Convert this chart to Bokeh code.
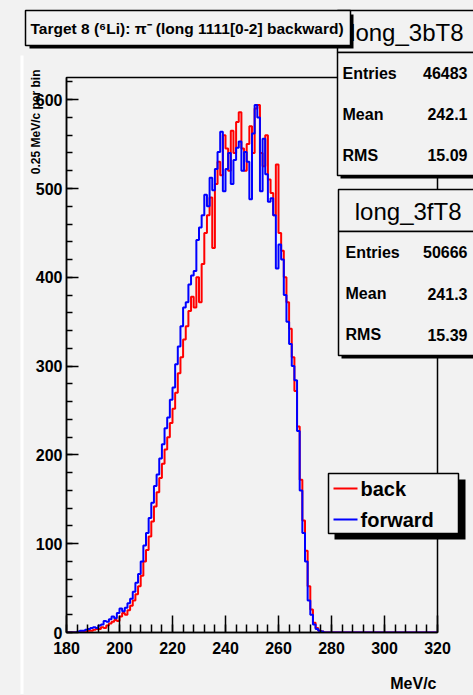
import math
from bokeh.plotting import figure
from bokeh.models import Range1d, SingleIntervalTicker, GridBox
from bokeh.core.properties import value
from bokeh.embed import file_html
from bokeh.resources import INLINE

# ---------------- data (1 MeV/c bins) ----------------
x_min, x_max = 180, 320
y_max = 625
hist_start = 184  # lower edge of first listed bin
back_counts = [
    0, 1, 1, 1, 2, 2, 3, 4, 4, 6,            # 184-193
    5, 8, 10, 12, 14, 13, 18, 22, 20, 25,     # 194-203
    30, 36, 43, 52, 64, 80, 93, 108, 125, 142,  # 204-213
    158, 174, 190, 206, 220, 236, 252, 270, 292, 310,  # 214-223
    330, 345, 362, 378, 366, 400, 372, 415, 450, 470,  # 224-233
    490, 433, 505, 530, 515, 560, 545, 520, 565, 540,  # 234-243
    575, 586, 545, 520, 550, 570, 540, 590, 594, 540,  # 244-253
    525, 560, 510, 495, 470, 527, 450, 430, 400, 372,  # 254-263
    342, 310, 272, 232, 172, 126, 92, 52, 26, 11,      # 264-273
    5, 2, 1, 0,                                        # 274-277
]
forward_counts = [
    1, 2, 2, 3, 4, 5, 6, 5, 8, 9,
    13, 12, 15, 18, 16, 22, 27, 24, 28, 33,
    38, 46, 56, 66, 80, 98, 112, 129, 146, 165,
    178, 196, 212, 230, 242, 262, 276, 302, 322, 345,
    366, 372, 392, 402, 407, 442, 456, 470, 493, 480,
    512, 498, 522, 541, 564, 497, 522, 540, 505, 532,
    546, 553, 520, 541, 530, 488, 562, 594, 580, 497,
    556, 516, 485, 489, 470, 410, 437, 420, 380, 350,
    325, 300, 284, 227, 160, 112, 80, 36, 20, 9,
    4, 2, 1, 0,
]
series_names = ["back", "forward"]
series_colors = ["#ff0000", "#0000ff"]
stats_titles = ["long_3bT8", "long_3fT8"]
stats_entries = ["46483", "50666"]
stats_mean = ["242.1", "241.3"]
stats_rms = ["15.09", "15.39"]
title_text = "Target 8 (\u2076Li): \u03c0\u207b (long 1111[0-2] backward)"
x_title = "MeV/c"
y_title = "0.25 MeV/c per bin"

edges = list(range(x_min, x_max + 1))
nb = x_max - x_min


def full_hist(counts):
    vals = [0] * (hist_start - x_min) + list(counts)
    vals += [0] * (nb - len(vals))
    return vals + [vals[-1]]


# ---------------- layout ----------------
FONT = "Liberation Sans"
BG = "#f2f2f2"
W, H = 473, 694
FL, FR, FT, FB = 66, 437, 77, 632

p = figure(width=W, height=H, x_range=Range1d(x_min, x_max), y_range=Range1d(0, y_max),
           output_backend="svg", toolbar_location=None,
           min_border_left=FL, min_border_right=W - FR, min_border_top=FT, min_border_bottom=H - FB)
p.background_fill_color = BG
p.border_fill_color = BG
p.outline_line_color = "black"
p.outline_line_width = 1.5
p.xgrid.visible = False
p.ygrid.visible = False

p.xaxis.ticker = SingleIntervalTicker(interval=20, num_minor_ticks=5)
p.yaxis.ticker = SingleIntervalTicker(interval=100, num_minor_ticks=5)
for ax, (mi, mn) in ((p.xaxis, (17, 8)), (p.yaxis, (12, 6))):
    ax.major_tick_in = mi
    ax.major_tick_out = 0
    ax.minor_tick_in = mn
    ax.minor_tick_out = 0
    ax.axis_line_color = "black"
    ax.axis_line_width = 1.5
    ax.major_tick_line_color = "black"
    ax.major_tick_line_width = 1.5
    ax.minor_tick_line_color = "black"
    ax.minor_tick_line_width = 1.5
    ax.major_label_text_font = FONT
    ax.major_label_text_font_size = "16px"
    ax.major_label_text_font_style = "bold"
    ax.major_label_text_color = "black"
p.xaxis.major_label_standoff = 9
p.yaxis.major_label_standoff = 4

# histograms
p.step(edges, full_hist(back_counts), mode="after", line_color=series_colors[0], line_width=2)
p.step(edges, full_hist(forward_counts), mode="after", line_color=series_colors[1], line_width=2)

# ---------------- overlay for boxes and titles (page pixel coordinates) ----------------
o = figure(width=W, height=H, x_range=Range1d(0, W), y_range=Range1d(H, 0),
           output_backend="svg", toolbar_location=None, x_axis_type=None, y_axis_type=None,
           min_border=0)
o.background_fill_color = None
o.border_fill_color = None
o.outline_line_color = None

for fig in (p, o):
    if "frame_align" in fig.properties():
        fig.frame_align = False


def box(l, t, r, b, fill=BG, line="black", lw=1.5):
    o.quad(left=[l], right=[r], top=[t], bottom=[b], fill_color=fill,
           line_color=line, line_width=lw)


def text(px, py, s, size, bold=True, align="left", baseline="middle", angle=0.0, color="black"):
    o.text(x=[px], y=[py], text=[s], text_font=value(FONT), text_font_size=value(size),
           text_font_style="bold" if bold else "normal", text_align=align,
           text_baseline=baseline, angle=angle, text_color=color)


# white strip at the canvas edge
box(20, 55, 23, H, fill="white", line=None, lw=0)

# axis titles
text(35, 69, y_title, "12px", align="right", baseline="alphabetic", angle=math.pi / 2)
text(436, 683, x_title, "16px", align="right", baseline="alphabetic")

# stats boxes
stat_geo = [(337, 10, 52, 175, 342, 463), (338, 189, 231, 355, 345, 461)]
for i, (l, t, s, b, tx, trx) in enumerate(stat_geo):
    box(l + 3, t + 3, 510, b + 3, fill="black", line=None, lw=0)
    box(l, t, 505, s)
    box(l, s, 505, b)
    text(trx, (t + s) / 2 + 1, stats_titles[i], "24px", bold=False, align="right")
    rows = [("Entries", stats_entries[i]), ("Mean", stats_mean[i]), ("RMS", stats_rms[i])]
    h = (b - s) / 3
    for k, (lab, val) in enumerate(rows):
        yy = s + h * (k + 0.5)
        text(tx, yy, lab, "16px")
        text(467, yy, val, "16px", align="right")

# title box
box(29, 14, 353, 48, fill="black", line=None, lw=0)
box(25, 10, 350, 45)
text(30, 28, title_text, "15.5px")

# legend
box(334, 479, 465, 539, fill="black", line=None, lw=0)
box(328, 473, 458, 533)
for k, (nm, col) in enumerate(zip(series_names, series_colors)):
    yy = 488 + 31 * k
    o.segment(x0=[333], y0=[yy], x1=[357], y1=[yy], line_color=col, line_width=2)
    text(360, yy, nm, "20px")

layout = GridBox(children=[(p, 0, 0), (o, 0, 0)])

html = file_html(layout, INLINE, title="long_3bT8")
html = html.replace("</head>", "<style>html,body{background:#f2f2f2;}</style></head>", 1)
open("out.html", "w").write(html)
